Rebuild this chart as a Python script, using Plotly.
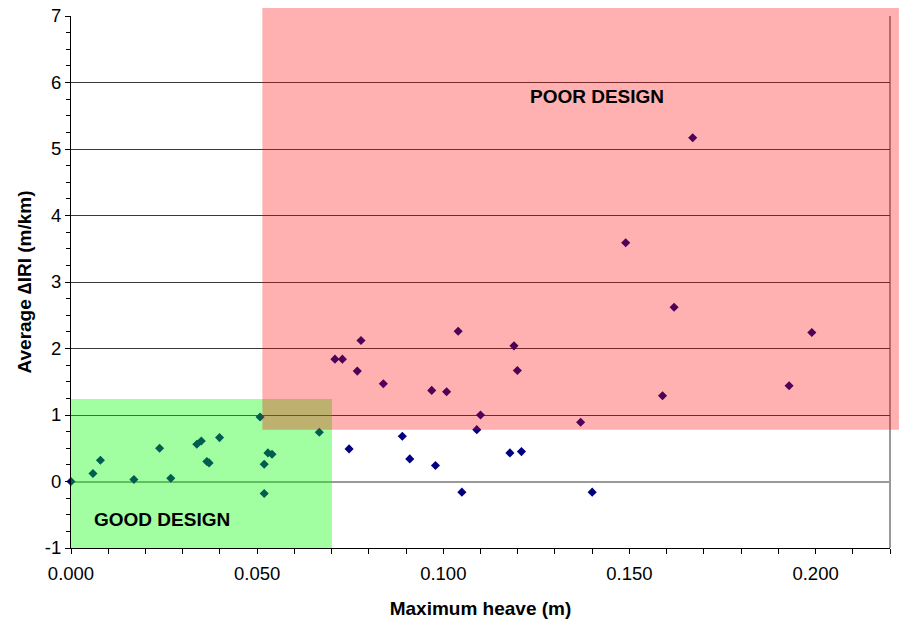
import plotly.graph_objects as go

# Maximum heave (m)
heave = [0.000, 0.0059, 0.0079, 0.0169, 0.0238, 0.0268, 0.0338, 0.0350, 0.0365, 0.0371,
         0.0399, 0.0508, 0.0519, 0.0519, 0.0529, 0.0540, 0.0667, 0.0709, 0.0729, 0.0747,
         0.0769, 0.0779, 0.0839, 0.0890, 0.0910, 0.0969, 0.0979, 0.1009, 0.1040, 0.1050,
         0.1090, 0.1100, 0.1179, 0.1190, 0.1199, 0.1210, 0.1369, 0.1400, 0.1490, 0.1589,
         0.1620, 0.1670, 0.1929, 0.1990]
# Average delta IRI (m/km)
diri = [0.00, 0.12, 0.32, 0.03, 0.50, 0.05, 0.56, 0.61, 0.30, 0.28,
        0.66, 0.97, 0.26, -0.18, 0.43, 0.41, 0.74, 1.84, 1.84, 0.49,
        1.66, 2.12, 1.47, 0.68, 0.34, 1.37, 0.24, 1.35, 2.26, -0.16,
        0.78, 1.00, 0.43, 2.04, 1.67, 0.45, 0.89, -0.16, 3.59, 1.29,
        2.62, 5.17, 1.44, 2.24]

x_range = [0, 0.22]
y_range = [-1, 7]
x_ticks = [0.0, 0.05, 0.10, 0.15, 0.20]
x_ticklabels = ["0.000", "0.050", "0.100", "0.150", "0.200"]
y_ticks = [-1, 0, 1, 2, 3, 4, 5, 6, 7]
y_ticklabels = ["-1", "0", "1", "2", "3", "4", "5", "6", "7"]

# design zones (data units)
good_zone = dict(x0=0.0, x1=0.0701, y0=-1.0, y1=1.24)
poor_zone = dict(x0=0.0514, x1=0.2224, y0=0.78, y1=7.12)


def px_x(v):
    return (v - x_range[0]) / (x_range[1] - x_range[0])


def px_y(v):
    return (v - y_range[0]) / (y_range[1] - y_range[0])


FONT = "Liberation Sans, Arial, sans-serif"

fig = go.Figure()
fig.add_trace(go.Scatter(
    x=heave, y=diri, mode="markers",
    marker=dict(symbol="diamond", size=7, color="#000080", line=dict(width=0)),
    showlegend=False, cliponaxis=False, hoverinfo="skip",
))

fig.add_shape(type="rect", layer="above", xref="x", yref="y",
              x0=good_zone["x0"], x1=good_zone["x1"], y0=good_zone["y0"], y1=good_zone["y1"],
              fillcolor="rgba(0,255,0,0.37)", line=dict(width=0))
fig.add_shape(type="rect", layer="above", xref="paper", yref="paper",
              x0=px_x(poor_zone["x0"]), x1=px_x(poor_zone["x1"]),
              y0=px_y(poor_zone["y0"]), y1=px_y(poor_zone["y1"]),
              fillcolor="rgba(255,0,0,0.31)", line=dict(width=0))
# right border
fig.add_shape(type="line", layer="below", xref="paper", yref="paper",
              x0=1, x1=1, y0=0, y1=1, line=dict(color="#999999", width=2))

fig.add_annotation(x=0.1413, y=5.79, xref="x", yref="y", text="<b>POOR DESIGN</b>",
                   showarrow=False, font=dict(family=FONT, size=19, color="#000000"))
fig.add_annotation(x=0.0245, y=-0.57, xref="x", yref="y", text="<b>GOOD DESIGN</b>",
                   showarrow=False, font=dict(family=FONT, size=19, color="#000000"))

fig.update_layout(
    width=899, height=621,
    margin=dict(l=71, r=9, t=16, b=73),
    paper_bgcolor="white", plot_bgcolor="white",
    font=dict(family=FONT, size=18, color="#000000"),
    xaxis=dict(
        range=x_range, tickvals=x_ticks, ticktext=x_ticklabels, automargin=False,
        showgrid=False, zeroline=False,
        showline=True, linecolor="#000000", linewidth=1,
        ticks="outside", ticklen=5, tickcolor="#000000", ticklabelstandoff=4,
        minor=dict(dtick=0.01, ticks="outside", ticklen=5, tickcolor="#000000", showgrid=False),
        title=dict(text="<b>Maximum heave (m)</b>", font=dict(family=FONT, size=19), standoff=18),
        tickfont=dict(family=FONT, size=18.5),
    ),
    yaxis=dict(
        range=y_range, tickvals=y_ticks, ticktext=y_ticklabels, automargin=False,
        showgrid=True, gridcolor="#3a3a3a", gridwidth=1,
        zeroline=True, zerolinecolor="#9a9a9a", zerolinewidth=2,
        showline=True, linecolor="#000000", linewidth=1,
        ticks="outside", ticklen=5, tickcolor="#000000",
        minor=dict(dtick=0.25, ticks="outside", ticklen=4, tickcolor="#000000", showgrid=False),
        title=dict(text="<b>Average \u2206IRI (m/km)</b>", font=dict(family=FONT, size=19), standoff=8),
        tickfont=dict(family=FONT, size=18.5),
    ),
)

fig.write_html(
    "out.html",
    config={"displayModeBar": False},
    post_script="document.body.style.margin='0';document.body.style.overflow='hidden';",
)
